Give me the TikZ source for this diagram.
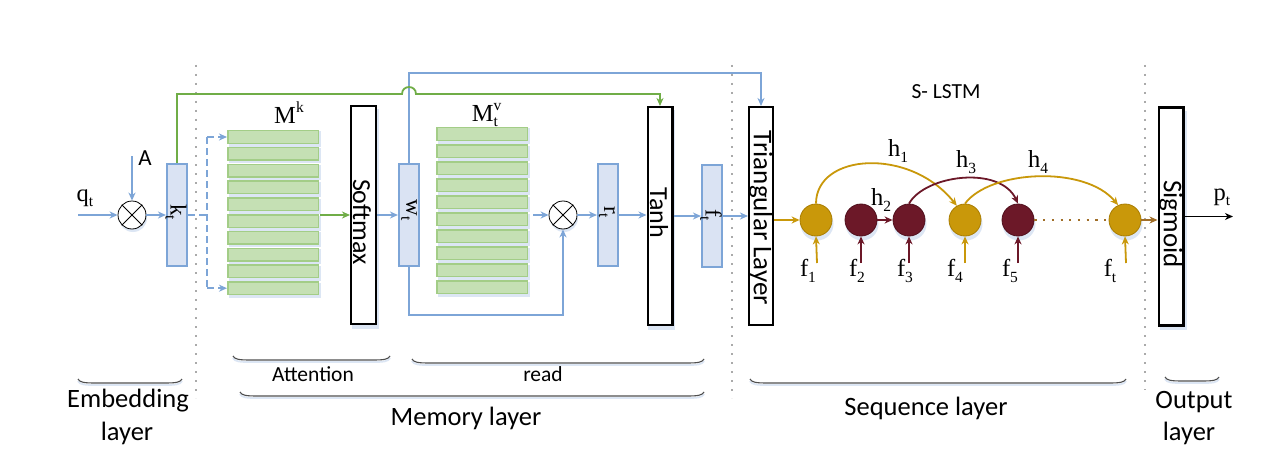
\documentclass[tikz,border=0pt]{standalone}
\usepackage{fontspec}
\usetikzlibrary{arrows.meta}
\newfontfamily\calib{Carlito}
\newfontfamily\serlbl{Liberation Serif}
\definecolor{lnblue}{RGB}{125,165,215}
\definecolor{boxblue}{RGB}{218,227,243}
\definecolor{shblue}{RGB}{220,230,244}
\definecolor{rowfill}{RGB}{197,224,180}
\definecolor{rowdraw}{RGB}{163,205,135}
\definecolor{lgreen}{RGB}{112,173,71}
\definecolor{gold}{RGB}{201,152,10}
\definecolor{golddk}{RGB}{170,125,0}
\definecolor{maroon}{RGB}{108,24,40}
\definecolor{maroondk}{RGB}{80,15,28}
\definecolor{brownc}{RGB}{160,110,40}
\definecolor{dotgray}{RGB}{170,170,170}
\definecolor{bracegray}{RGB}{80,80,80}
\newcommand\lsub[2]{#1\raisebox{-0.22em}{\fontsize{15.5}{15}\selectfont #2}}
\newcommand\lsup[2]{#1\raisebox{0.45em}{\fontsize{15.5}{15}\selectfont #2}}
\newcommand\lsupsub[3]{#1\rlap{\raisebox{0.45em}{\fontsize{15.5}{15}\selectfont #2}}\raisebox{-0.22em}{\fontsize{15.5}{15}\selectfont #3}}
\newcommand\mybrace[3]{%
  \draw[braceshadow,yshift=-2pt] (#1,#3-4) .. controls (#1+2,#3-0.5) and (#1+6,#3) .. (#1+18,#3) -- (#2-18,#3) .. controls (#2-6,#3) and (#2-2,#3-0.5) .. (#2,#3-4);
  \draw[bracepath] (#1,#3-4) .. controls (#1+2,#3-0.5) and (#1+6,#3) .. (#1+18,#3) -- (#2-18,#3) .. controls (#2-6,#3) and (#2-2,#3-0.5) .. (#2,#3-4);}
\tikzset{
 tip/.style={-{Stealth[length=8pt,width=7pt,inset=2.5pt]}},
 bline/.style={draw=lnblue, line width=1.5pt},
 barrow/.style={bline, tip},
 dsh/.style={dash pattern=on 7pt off 4pt},
 gline/.style={draw=lgreen, line width=1.8pt, tip},
 goldarrow/.style={draw=gold, line width=1.8pt, tip},
 mararrow/.style={draw=maroon, line width=1.8pt, tip},
 bluebox/.style={draw=lnblue, fill=boxblue, line width=1.6pt, minimum width=20.5pt, minimum height=102.5pt, inner sep=0pt},
 blackbox/.style={draw=black, fill=white, line width=2.4pt, minimum width=24.6pt, minimum height=217.6pt, inner sep=0pt},
 rowbox/.style={draw=rowdraw, fill=rowfill, line width=1.5pt, minimum width=90.5pt, minimum height=12.5pt, inner sep=0pt},
 otimes/.style={circle, draw=black, line width=0.8pt, minimum size=28pt, inner sep=0pt, fill=white},
 cell/.style={circle, minimum size=32pt, inner sep=0pt, line width=0.8pt},
 goldcell/.style={cell, fill=gold, draw=golddk},
 marcell/.style={cell, fill=maroon, draw=maroondk},
 rottext/.style={rotate=-90, font=\calib\fontsize{26}{30}\selectfont, inner sep=0pt},
 rotbig/.style={rotate=-90, font=\calib\fontsize{27}{30}\selectfont, inner sep=0pt},
 rotmath/.style={rotate=-90, font=\serlbl\fontsize{23}{26}\selectfont, inner sep=0pt},
 mathlbl/.style={font=\serlbl\fontsize{24.5}{28}\selectfont, inner sep=0pt},
 biglbl/.style={font=\calib\fontsize{26.5}{30}\selectfont, inner sep=0pt, anchor=base},
 smalllbl/.style={font=\calib\fontsize{21.5}{25}\selectfont, inner sep=0pt, anchor=base},
 dotline/.style={draw=dotgray, line width=2pt, dash pattern=on 2pt off 7pt},
 bracepath/.style={draw=bracegray, line width=1.1pt},
 braceshadow/.style={draw=shblue, line width=1.8pt},
}
\begin{document}
\begin{tikzpicture}[x=1pt,y=-1pt]
\fill[white] (0,0) rectangle (1276,468);
\useasboundingbox (0,0) rectangle (1276,468);

% separators
\draw[dotline] (196,65) -- (196,398);
\draw[dotline] (732,65) -- (732,398);
\draw[dotline] (1145,65) -- (1145,390);

% ---------- embedding
\fill[shblue] (133,218) circle (14);
\node[otimes] (ox1) at (132,215) {};
\draw[line width=0.8pt] (ox1.north west) -- (ox1.south east) (ox1.north east) -- (ox1.south west);
\coordinate (qin) at (78,215);
\node[mathlbl] (qlbl) at (85,198) {\lsub{q}{t}};
\coordinate (ain) at (132,156);
\node[font=\calib\fontsize{23}{26}\selectfont, inner sep=0pt] (albl) at (145,158) {A};
\node[bluebox] (kt) at (177,215) {};
\node[rotmath] (ktl) at (176,212) {\lsub{k}{t}};

% ---------- memory: M^k
\foreach \i in {0,...,9} {
  \fill[shblue] (228.5,{131.5+\i*16.8}) rectangle ++(92,15);
  \node[rowbox] (mk\i) at (273,{137+\i*16.8}) {};
}
\node[mathlbl] (mkl) at (289,113) {\lsup{M}{k}};
\coordinate (mkr) at (320,215);

\fill[shblue] (351.5,109) rectangle (378.5,329);
\node[blackbox] (softmax) at (363.5,215) {};
\node[rottext] (smx) at (362,222) {Softmax};

\node[bluebox] (wt) at (409,215) {};
\node[rotmath] (wtl) at (409,210) {\lsub{w}{t}};

% M^v
\foreach \i in {0,...,9} {
  \fill[shblue] (437.5,{128.5+\i*17}) rectangle ++(92,15);
  \node[rowbox] (mv\i) at (482,{134+\i*17}) {};
}
\node[mathlbl] (mvl) at (485,115) {\lsupsub{M}{v}{t}};
\coordinate (mvr) at (533,215);

\fill[shblue] (564,218) circle (14);
\node[otimes] (ox2) at (563,215) {};
\draw[line width=0.8pt] (ox2.north west) -- (ox2.south east) (ox2.north east) -- (ox2.south west);

\node[bluebox] (rt) at (608,215) {};
\node[rotmath] (rtl) at (607,212) {\lsub{r}{t}};

\fill[shblue] (647.5,110) rectangle (674.5,330);
\node[blackbox] (tanh) at (660,216) {};
\node[rottext] (tnh) at (659,213) {Tanh};

\node[bluebox] (ft) at (712,216) {};
\node[rotmath] (ftl) at (711,215) {\lsub{f}{t}};

% ---------- sequence
\node[blackbox, minimum width=23.6pt] (tri) at (761,216) {};
\node[rotbig] (trl) at (761,218) {Triangular Layer};

\node[font=\calib\fontsize{21.5}{25}\selectfont, inner sep=0pt] (slstm) at (946,92) {S- LSTM};

\foreach \x in {816,861,909,965,1018,1125} { \fill[shblue] (\x+1,224) circle (16.5); }
\node[goldcell] (c1) at (816,220) {};
\node[marcell]  (c2) at (861,220) {};
\node[marcell]  (c3) at (909,220) {};
\node[goldcell] (c4) at (965,220) {};
\node[marcell]  (c5) at (1018,220) {};
\node[goldcell] (c6) at (1125,220) {};

\node[mathlbl] (h1l) at (898,151) {\lsub{h}{1}};
\node[mathlbl] (h2l) at (881,200) {\lsub{h}{2}};
\node[mathlbl] (h3l) at (966,162) {\lsub{h}{3}};
\node[mathlbl] (h4l) at (1038,162) {\lsub{h}{4}};

\node[mathlbl] (f1l) at (808,271) {\lsub{f}{1}};
\node[mathlbl] (f2l) at (857,271) {\lsub{f}{2}};
\node[mathlbl] (f3l) at (905,271) {\lsub{f}{3}};
\node[mathlbl] (f4l) at (955,271) {\lsub{f}{4}};
\node[mathlbl] (f5l) at (1010,271) {\lsub{f}{5}};
\node[mathlbl] (f6l) at (1110,271) {\lsub{f}{t}};
\foreach \n/\x in {1/817,2/861,3/909,4/965,5/1018,6/1126} { \coordinate (fin\n) at (\x,263); }

% ---------- output
\fill[shblue] (1159.5,111) rectangle (1186.5,330);
\node[blackbox] (sigm) at (1171,216.5) {};
\node[rotbig] (sgm) at (1171,224) {Sigmoid};
\coordinate (pt) at (1233,216.5);
\node[mathlbl] (ptl) at (1222,197) {\lsub{p}{t}};

% ---------- connectors
\draw[barrow] (qin) -- (ox1.west);
\draw[barrow] (ain) -- (ox1.north);
\draw[barrow] (ox1.east) -- (kt.west);

\coordinate (dk) at (207,215);
\coordinate (dkt) at (207,137);
\coordinate (dkb) at (207,288.2);
\draw[bline,dsh] (kt.east) -- (dk);
\draw[bline,dsh] (dkt) -- (dkb);
\draw[barrow,dsh] (dkt) -- (mk0.west |- dkt);
\draw[barrow,dsh] (dkb) -- (mk9.west |- dkb);

\draw[gline] (mkr) -- (softmax.west);
\draw[barrow] (softmax.east) -- (wt.west);
\draw[barrow] (mvr) -- (ox2.west);
\draw[barrow] (ox2.east) -- (rt.west);
\draw[barrow] (rt.east) -- (rt.east -| tanh.west);
\draw[barrow] (tanh.east) -- (ft.west);
\draw[barrow] (ft.east) -- (tri.west);

\coordinate (topy) at (0,73);
\coordinate (boty) at (0,315);
\draw[barrow] (wt.north) -- (wt.north |- topy) -| (tri.north);
\draw[barrow] (wt.south) -- (wt.south |- boty) -| (ox2.south);

\coordinate (gy) at (0,94);
\coordinate (hopl) at (402,94);
\coordinate (hopr) at (416,94);
\draw[gline] (kt.north) -- (kt.north |- gy) -- (hopl) .. controls (402,84.7) and (416,84.7) .. (hopr) -| (tanh.north);

\draw[goldarrow] (tri.east |- c1) -- (c1.west);
\draw[mararrow] (c2.east) -- (c3.west);
\draw[draw=brownc, line width=2.2pt, dash pattern=on 2.2pt off 6.5pt] (c5.east) -- (c6.west);
\draw[draw=brownc, line width=1.8pt, tip] (c6.east) -- (c6.east -| sigm.west);
\draw[black, line width=1.8pt, tip] (sigm.east |- pt) -- (pt);

\draw[goldarrow] (c1.north) .. controls (816,153) and (910,147) .. (c4.120);
\draw[mararrow] (c3.north) .. controls (925,175) and (1000,165) .. (c5.north);
\draw[goldarrow] (c4.north) .. controls (990,170) and (1085,165) .. (c6.115);

\draw[goldarrow] (fin1) -- (c1.south);
\draw[mararrow] (fin2) -- (c2.south);
\draw[mararrow] (fin3) -- (c3.south);
\draw[goldarrow] (fin4) -- (c4.south);
\draw[mararrow] (fin5) -- (c5.south);
\draw[goldarrow] (fin6) -- (c6.south);

% ---------- braces and bottom labels
\mybrace{78}{182}{383}
\mybrace{233}{390}{360}
\mybrace{412}{704}{363}
\mybrace{240}{704}{396}
\mybrace{750}{1126}{383}
\mybrace{1165}{1219}{381}

\node[biglbl] (emb1) at (128,407) {Embedding};
\node[biglbl] (emb2) at (127,440) {layer};
\node[smalllbl] (att) at (313,381) {Attention};
\node[smalllbl] (rd) at (543,381) {read};
\node[biglbl] (mem) at (466,425) {Memory layer};
\node[biglbl] (seq) at (926,415) {Sequence layer};
\node[biglbl] (out1) at (1194,408) {Output};
\node[biglbl] (out2) at (1189,440) {layer};
\end{tikzpicture}
\end{document}
